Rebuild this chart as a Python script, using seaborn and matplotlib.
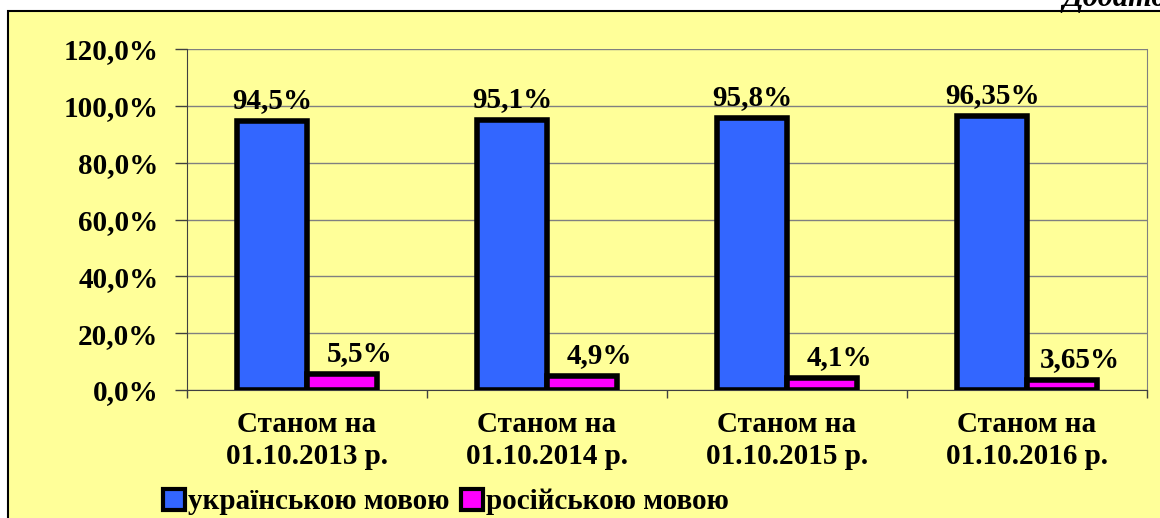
import pandas as pd
import numpy as np
import seaborn as sns
import matplotlib.pyplot as plt
from matplotlib.patches import Rectangle, Patch

# data
categories = ['Станом на\n01.10.2013 р.', 'Станом на\n01.10.2014 р.',
              'Станом на\n01.10.2015 р.', 'Станом на\n01.10.2016 р.']
ukr = [94.5, 95.1, 95.8, 96.35]
rus = [5.5, 4.9, 4.1, 3.65]
ukr_labels = ['94,5%', '95,1%', '95,8%', '96,35%']
rus_labels = ['5,5%', '4,9%', '4,1%', '3,65%']
series = ['українською мовою', 'російською мовою']
yticks = [0, 20, 40, 60, 80, 100, 120]
ytick_labels = ['0,0%', '20,0%', '40,0%', '60,0%', '80,0%', '100,0%', '120,0%']

df = pd.DataFrame({'cat': categories * 2,
                   'lang': [series[0]] * 4 + [series[1]] * 4,
                   'val': ukr + rus})

plt.rcParams['font.family'] = ['Liberation Serif', 'DejaVu Serif']
plt.rcParams['font.weight'] = 'bold'

yellow = '#FFFF99'
colors = ['#3366FF', '#FF00FF']
fs = 21

fig = plt.figure(figsize=(11.6, 5.18), dpi=100)
fig.patch.set_facecolor('white')
fig.patches.append(Rectangle((8 / 1160, -0.01), 1.1, 1 - 11 / 518 + 0.01,
                             transform=fig.transFigure, facecolor=yellow,
                             edgecolor='black', lw=1.5, zorder=-5))

ax = fig.add_axes([187 / 1160, 1 - 390 / 518, 960 / 1160, 341 / 518])
ax.set_zorder(2)
ax.set_facecolor(yellow)
sns.barplot(data=df, x='cat', y='val', hue='lang', palette=colors, width=0.58,
            edgecolor='black', linewidth=4, saturation=1, legend=False, ax=ax,
            zorder=3)

# value labels, the pink ones sit a little to the right like in excel
for cont, labs, dx in zip(ax.containers, [ukr_labels, rus_labels], [0, 13]):
    anns = ax.bar_label(cont, labels=labs, padding=5, fontsize=fs, fontweight='bold')
    for a in anns:
        a.xyann = (dx, 5)

ax.set_ylim(0, 120)
ax.set_xlim(-0.5, 3.5)
ax.set_yticks(yticks)
ax.set_yticklabels(ytick_labels, fontsize=fs, fontweight='bold')
ax.tick_params(axis='y', length=8.5, width=1, color='#404040', pad=12)
ax.set_xticks(range(4))
ax.set_xticklabels(categories, fontsize=fs, fontweight='bold', linespacing=1.25)
ax.tick_params(axis='x', which='major', length=0, pad=15)
ax.set_xticks(np.arange(-0.5, 4, 1), minor=True)
ax.tick_params(axis='x', which='minor', length=6, width=1, color='#404040')
ax.set_xlabel('')
ax.set_ylabel('')

ax.yaxis.grid(True, color='#808080', lw=1, zorder=0)
ax.set_axisbelow(True)
ax.spines['top'].set_visible(False)
ax.spines['right'].set_color('#808080')
ax.spines['left'].set_color('#404040')
ax.spines['bottom'].set_color('#404040')

handles = [Patch(facecolor=c, edgecolor='black', lw=3) for c in colors]
fig.legend(handles, series, loc='lower left', bbox_to_anchor=(163 / 1160, 0.005),
           ncol=2, frameon=False, prop={'size': fs, 'weight': 'bold'},
           handlelength=0.75, handleheight=0.75, handletextpad=0.1,
           columnspacing=0.4, borderpad=0, borderaxespad=0)

fig.text(1062 / 1160, 1 - 6 / 518, 'Додаток', fontsize=22, fontstyle='italic',
         fontweight='bold', va='baseline', ha='left')

fig.savefig('out.png', dpi=100)
